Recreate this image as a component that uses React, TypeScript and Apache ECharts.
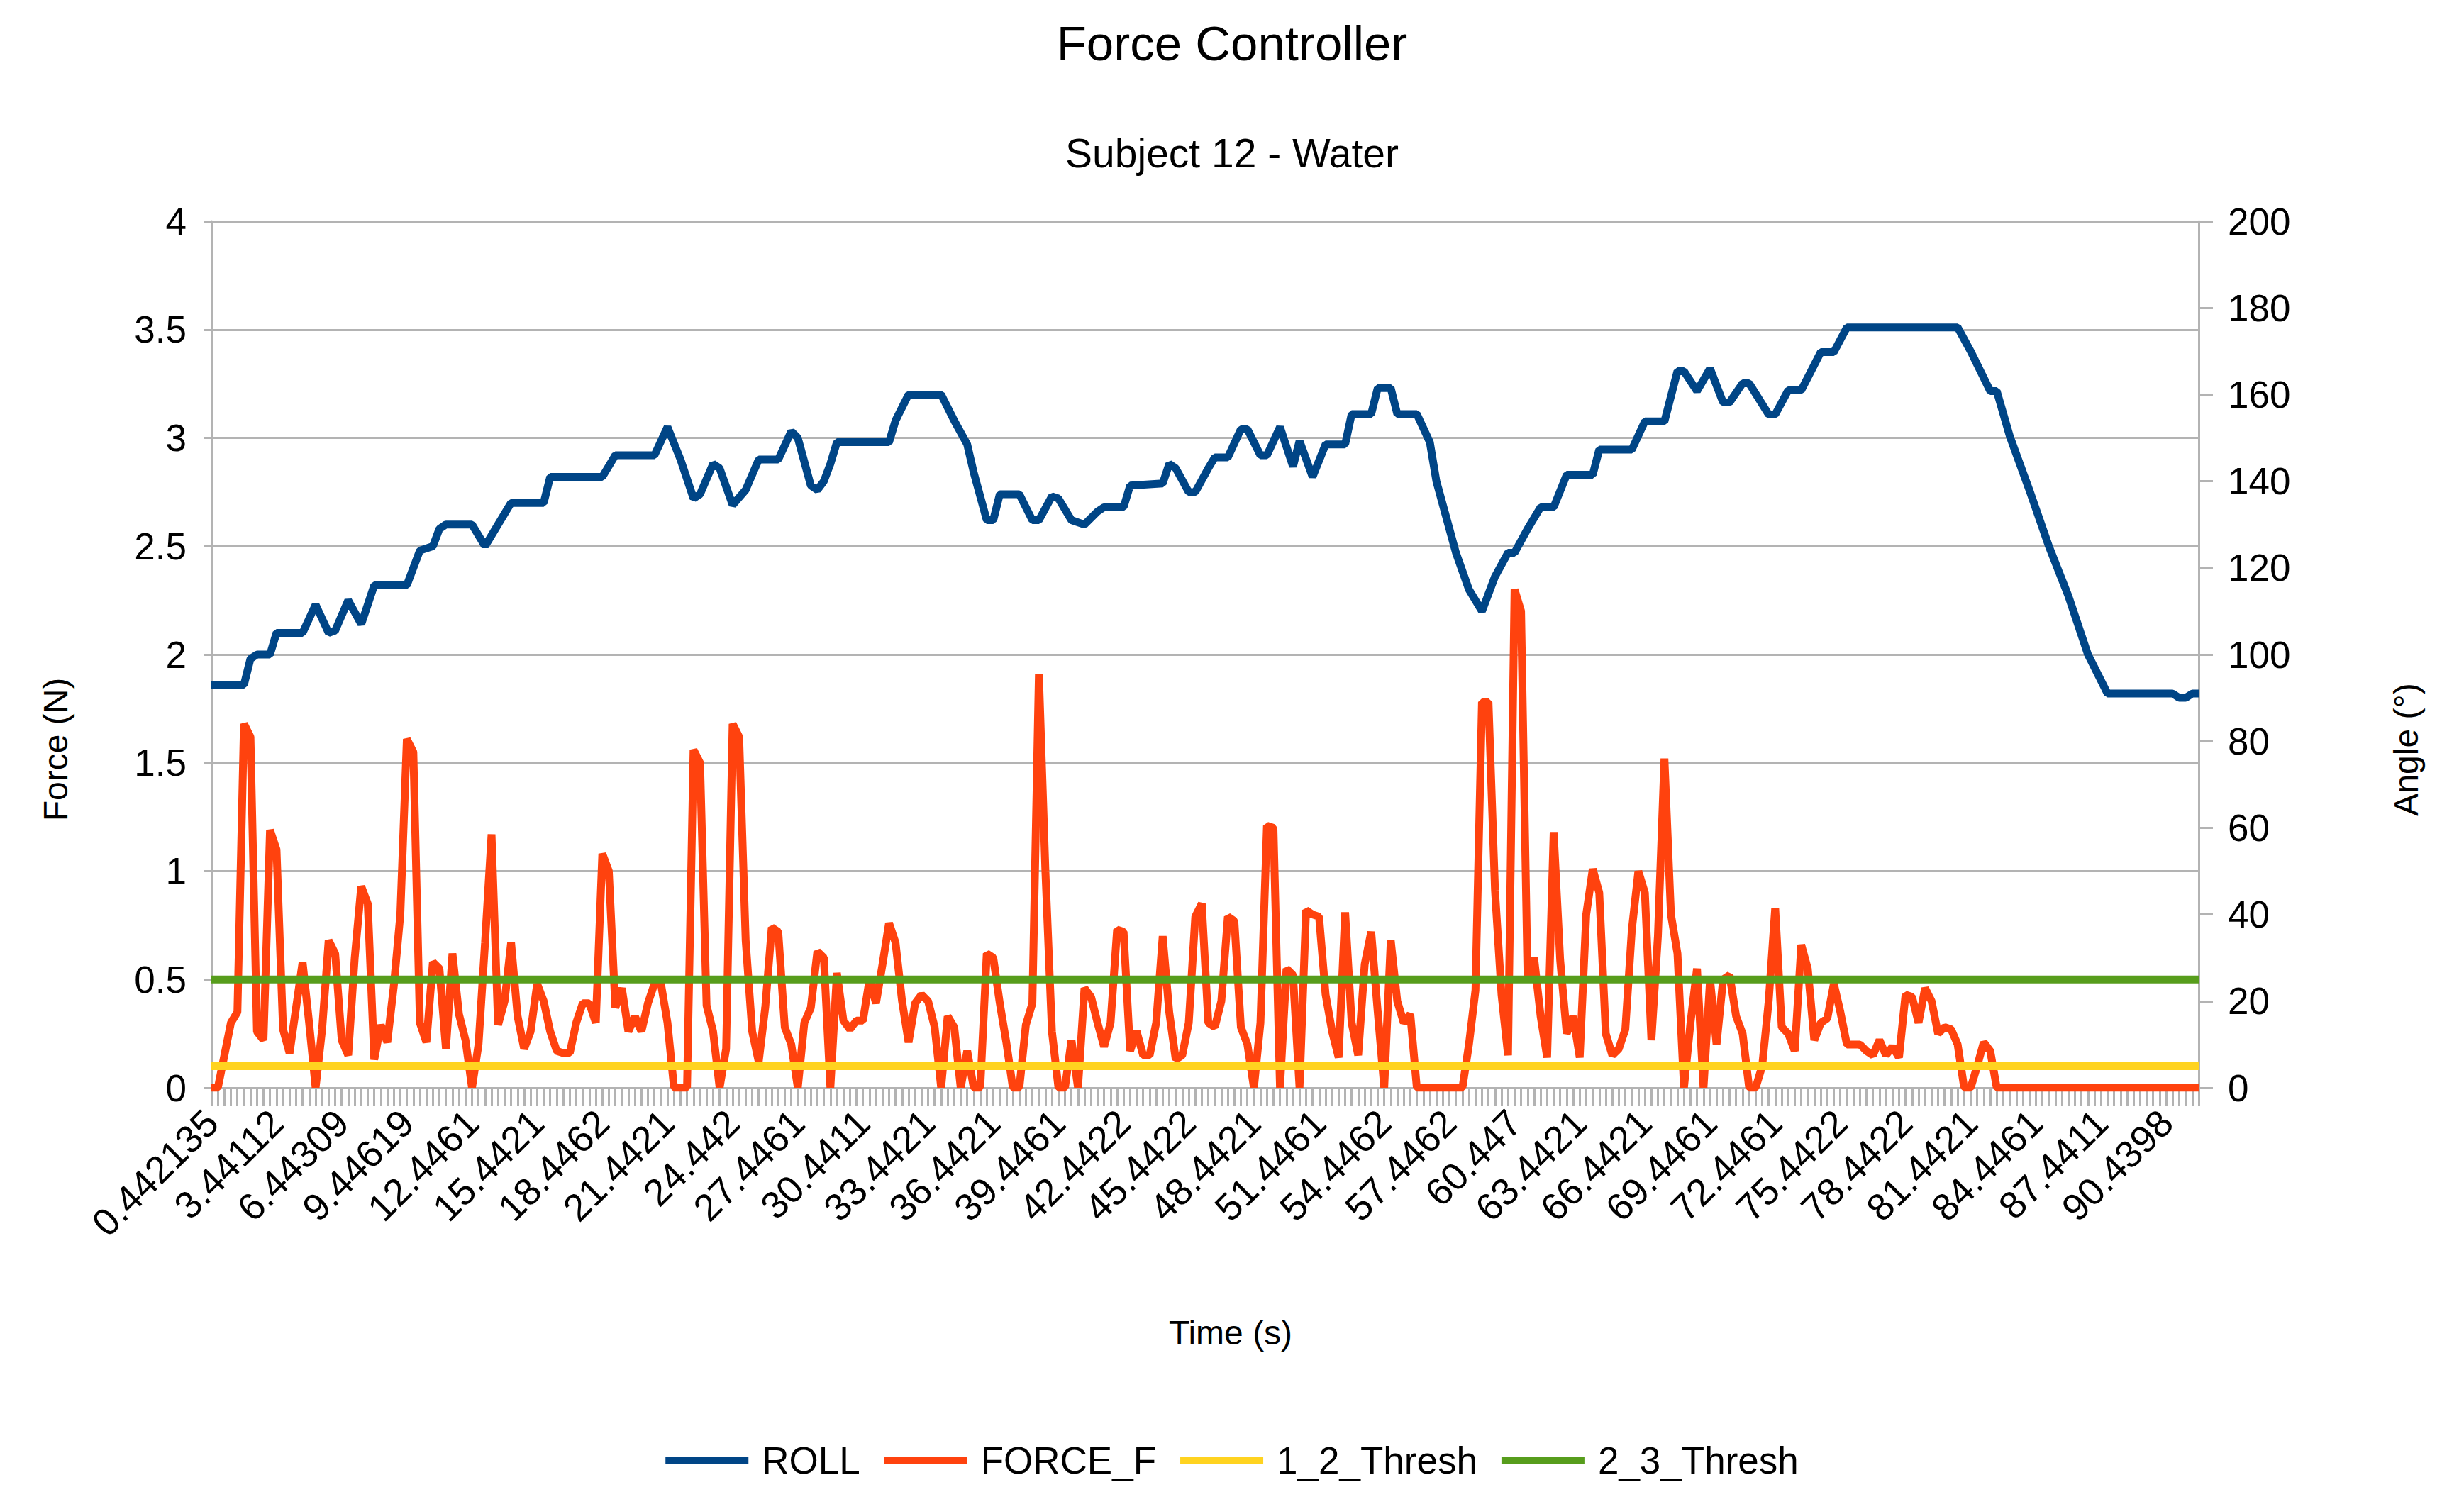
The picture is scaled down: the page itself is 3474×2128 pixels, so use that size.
import React, { useEffect, useRef } from "react";
import * as echarts from "echarts";

const TITLE = "Force Controller";
const SUBTITLE = "Subject 12 - Water";
const X_NAME = "Time (s)";
const Y_LEFT_NAME = "Force (N)";
const Y_RIGHT_NAME = "Angle (°)";

// time labels shown every 10 categories (0.3 s per category)
const TICK_LABELS = [
  "0.442135", "3.44112", "6.44309", "9.44619", "12.4461", "15.4421", "18.4462",
  "21.4421", "24.442", "27.4461", "30.4411", "33.4421", "36.4421", "39.4461",
  "42.4422", "45.4422", "48.4421", "51.4461", "54.4462", "57.4462", "60.447",
  "63.4421", "66.4421", "69.4461", "72.4461", "75.4422", "78.4422", "81.4421",
  "84.4461", "87.4411", "90.4398",
];
const CATEGORY_COUNT = 306;
const LABEL_EVERY = 10;

// FORCE_F (N), one value per category
const FORCE_F = [
  0, 0, 0.15, 0.3, 0.35, 1.68, 1.62, 0.26, 0.22, 1.19,
  1.1, 0.27, 0.16, 0.37, 0.58, 0.3, 0, 0.27, 0.68, 0.62,
  0.22, 0.15, 0.6, 0.93, 0.85, 0.13, 0.29, 0.21, 0.47, 0.8,
  1.61, 1.55, 0.3, 0.21, 0.58, 0.55, 0.18, 0.62, 0.34, 0.22,
  0, 0.2, 0.67, 1.17, 0.29, 0.4, 0.67, 0.33, 0.18, 0.26,
  0.48, 0.4, 0.26, 0.17, 0.16, 0.16, 0.3, 0.39, 0.39, 0.3,
  1.08, 1.0, 0.37, 0.46, 0.26, 0.33, 0.26, 0.39, 0.48, 0.48,
  0.3, 0, 0, 0, 1.56, 1.5, 0.38, 0.26, 0, 0.18,
  1.68, 1.62, 0.68, 0.26, 0.12, 0.37, 0.74, 0.72, 0.28, 0.2,
  0, 0.3, 0.37, 0.63, 0.6, 0, 0.53, 0.31, 0.27, 0.31,
  0.31, 0.5, 0.39, 0.57, 0.76, 0.67, 0.4, 0.21, 0.39, 0.43,
  0.4, 0.28, 0, 0.33, 0.28, 0, 0.17, 0, 0, 0.62,
  0.6, 0.39, 0.21, 0, 0, 0.29, 0.39, 1.91, 1.0, 0.26,
  0, 0, 0.22, 0, 0.46, 0.42, 0.3, 0.19, 0.3, 0.73,
  0.72, 0.17, 0.26, 0.15, 0.15, 0.3, 0.7, 0.35, 0.13, 0.15,
  0.3, 0.79, 0.85, 0.3, 0.28, 0.4, 0.79, 0.77, 0.28, 0.2,
  0, 0.3, 1.21, 1.2, 0, 0.55, 0.52, 0, 0.82, 0.8,
  0.79, 0.43, 0.26, 0.14, 0.81, 0.3, 0.15, 0.57, 0.72, 0.35,
  0, 0.68, 0.4, 0.3, 0.34, 0, 0, 0, 0, 0,
  0, 0, 0, 0.2, 0.45, 1.78, 1.78, 0.91, 0.43, 0.15,
  2.3, 2.2, 0.5, 0.6, 0.33, 0.14, 1.18, 0.59, 0.25, 0.33,
  0.14, 0.8, 1.01, 0.9, 0.25, 0.15, 0.18, 0.27, 0.73, 1.0,
  0.9, 0.22, 0.7, 1.52, 0.8, 0.62, 0, 0.3, 0.55, 0,
  0.5, 0.2, 0.5, 0.52, 0.33, 0.25, 0, 0, 0.1, 0.4,
  0.83, 0.28, 0.25, 0.17, 0.66, 0.55, 0.22, 0.3, 0.32, 0.48,
  0.35, 0.2, 0.2, 0.2, 0.17, 0.15, 0.22, 0.15, 0.19, 0.14,
  0.43, 0.42, 0.3, 0.46, 0.4, 0.25, 0.28, 0.27, 0.2, 0,
  0, 0.1, 0.21, 0.17, 0, 0, 0, 0, 0, 0,
  0, 0, 0, 0, 0, 0, 0, 0, 0, 0,
  0, 0, 0, 0, 0, 0, 0, 0, 0, 0,
  0, 0, 0, 0, 0, 0,
];

// ROLL (degrees) as [category index, angle]
const ROLL = [
  [0, 93], [5, 93], [6, 99], [7, 100], [9, 100], [10, 105], [14, 105], [16, 111.5],
  [18, 105], [19, 105.5], [21, 112.5], [23, 107], [25, 116], [30, 116], [32, 124],
  [34, 125], [35, 129], [36, 130], [40, 130], [42, 125], [44, 130], [46, 135],
  [51, 135], [52, 141], [60, 141], [62, 146], [68, 146], [70, 152.5], [72, 145],
  [74, 136], [75, 137], [77, 144], [78, 143], [80, 134.5], [82, 138], [84, 145],
  [87, 145], [89, 151.5], [90, 150], [92, 139], [93, 138], [94, 140], [95, 144],
  [96, 149], [104, 149], [105, 154], [107, 160], [112, 160], [114, 154],
  [116, 148.5], [117, 142], [119, 131], [120, 131], [121, 137], [124, 137],
  [126, 131], [127, 131], [129, 136.5], [130, 136], [132, 131], [134, 130],
  [136, 133], [137, 134], [140, 134], [141, 139], [146, 139.5], [147, 144],
  [148, 143], [150, 137.5], [151, 137.5], [153, 143], [154, 145.5], [156, 145.5],
  [158, 152], [159, 152], [161, 146], [162, 146], [164, 152.5], [166, 143.4],
  [167, 149.3], [169, 141], [171, 148.5], [174, 148.5], [175, 155.5], [178, 155.5],
  [179, 161.5], [181, 161.5], [182, 155.5], [185, 155.5], [187, 149], [188, 140],
  [190, 129], [191, 123.5], [193, 115], [195, 110], [197, 118], [199, 123.5],
  [200, 123.5], [202, 129], [204, 134], [206, 134], [208, 141.5], [212, 141.5],
  [213, 147.3], [218, 147.3], [220, 153.8], [223, 153.8], [225, 165.4], [226, 165.4],
  [228, 160.8], [230, 166], [232, 158.2], [233, 158.2], [235, 162.6], [236, 162.6],
  [239, 155.4], [240, 155.4], [242, 161], [244, 161], [247, 169.8], [249, 169.8],
  [251, 175.5], [268, 175.5], [270, 170], [273, 160.8], [274, 160.8], [276, 150.4],
  [279, 138], [282, 125], [285, 113.5], [288, 100], [291, 91], [301, 91], [302, 90],
  [303, 90], [304, 91], [305, 91],
];

const THRESH_1_2 = 0.1;
const THRESH_2_3 = 0.5;

const COLORS = ["#004586", "#ff420e", "#ffd320", "#579d1c"];
const FONT = "Liberation Sans";
const GRID_COLOR = "#b3b3b3";

export default function App() {
  const ref = useRef<HTMLDivElement>(null);

  useEffect(() => {
    if (!ref.current) return;
    const chart = echarts.init(ref.current, undefined, { renderer: "svg" });
    const categories = Array.from({ length: CATEGORY_COUNT }, (_, i) =>
      i % LABEL_EVERY === 0 ? TICK_LABELS[i / LABEL_EVERY] ?? "" : ""
    );
    const last = CATEGORY_COUNT - 1;
    const lineW = 11;

    chart.setOption({
      animation: false,
      backgroundColor: "#ffffff",
      textStyle: { fontFamily: FONT, color: "#000" },
      title: [
        {
          text: TITLE,
          left: "center",
          top: 22,
          textStyle: { fontFamily: FONT, fontSize: 69, fontWeight: "normal", color: "#000" },
        },
        {
          text: SUBTITLE,
          left: "center",
          top: 182,
          textStyle: { fontFamily: FONT, fontSize: 57, fontWeight: "normal", color: "#000" },
        },
      ],
      legend: {
        bottom: 37,
        left: "center",
        icon: "rect",
        itemWidth: 117,
        itemHeight: 11,
        itemGap: 34,
        textStyle: { fontFamily: FONT, fontSize: 53, color: "#000", padding: [0, 0, 0, 14] },
        data: ["ROLL", "FORCE_F", "1_2_Thresh", "2_3_Thresh"],
      },
      grid: { left: 298, right: 374, top: 312, bottom: 594, containLabel: false },
      xAxis: {
        type: "category",
        data: categories,
        boundaryGap: false,
        name: X_NAME,
        nameLocation: "middle",
        nameGap: 321,
        nameTextStyle: { fontFamily: FONT, fontSize: 48, color: "#000", padding: [0, 0, 0, 72] },
        axisLine: { show: true, lineStyle: { color: GRID_COLOR, width: 3 } },
        axisTick: { show: true, interval: 0, length: 26, lineStyle: { color: GRID_COLOR, width: 3 } },
        axisLabel: {
          interval: LABEL_EVERY - 1,
          rotate: 45,
          margin: 40,
          fontFamily: FONT,
          fontSize: 54,
          color: "#000",
        },
        splitLine: { show: false },
      },
      yAxis: [
        {
          type: "value",
          position: "left",
          min: 0,
          max: 4,
          interval: 0.5,
          name: Y_LEFT_NAME,
          nameLocation: "middle",
          nameGap: 196,
          nameTextStyle: { fontFamily: FONT, fontSize: 48, color: "#000", padding: [0, 268, 0, 0] },
          axisLine: { show: true, lineStyle: { color: GRID_COLOR, width: 3 } },
          axisTick: { show: true, length: 10, lineStyle: { color: GRID_COLOR, width: 3 } },
          axisLabel: { margin: 35, fontFamily: FONT, fontSize: 53, color: "#000" },
          splitLine: { show: true, lineStyle: { color: GRID_COLOR, width: 3 } },
        },
        {
          type: "value",
          position: "right",
          min: 0,
          max: 200,
          interval: 20,
          name: Y_RIGHT_NAME,
          nameLocation: "middle",
          nameGap: 268,
          nameTextStyle: { fontFamily: FONT, fontSize: 48, color: "#000", padding: [0, 268, 0, 0] },
          axisLine: { show: true, lineStyle: { color: GRID_COLOR, width: 3 } },
          axisTick: { show: true, length: 20, lineStyle: { color: GRID_COLOR, width: 3 } },
          axisLabel: { margin: 41, fontFamily: FONT, fontSize: 53, color: "#000" },
          splitLine: { show: false },
        },
      ],
      series: [
        {
          name: "ROLL",
          type: "line",
          yAxisIndex: 1,
          data: ROLL,
          symbol: "none",
          showSymbol: false,
          color: COLORS[0],
          lineStyle: { width: lineW, color: COLORS[0], join: "bevel" },
        },
        {
          name: "FORCE_F",
          type: "line",
          yAxisIndex: 0,
          data: FORCE_F,
          symbol: "none",
          showSymbol: false,
          color: COLORS[1],
          lineStyle: { width: lineW, color: COLORS[1], join: "bevel" },
        },
        {
          name: "1_2_Thresh",
          type: "line",
          yAxisIndex: 0,
          data: [[0, THRESH_1_2], [last, THRESH_1_2]],
          symbol: "none",
          showSymbol: false,
          color: COLORS[2],
          lineStyle: { width: lineW, color: COLORS[2] },
        },
        {
          name: "2_3_Thresh",
          type: "line",
          yAxisIndex: 0,
          data: [[0, THRESH_2_3], [last, THRESH_2_3]],
          symbol: "none",
          showSymbol: false,
          color: COLORS[3],
          lineStyle: { width: lineW, color: COLORS[3] },
        },
      ],
    });

    return () => chart.dispose();
  }, []);

  return (
    <div
      ref={ref}
      style={{ position: "fixed", left: 0, top: 0, width: 3474, height: 2128, background: "#fff" }}
    />
  );
}
